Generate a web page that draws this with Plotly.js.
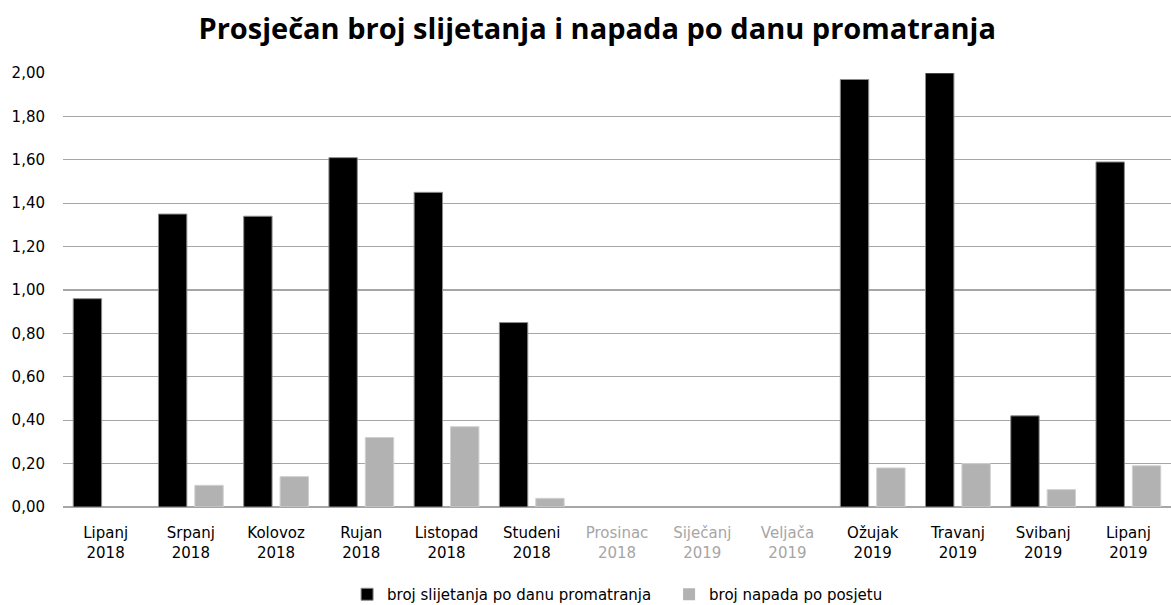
<!DOCTYPE html>
<html>
<head>
<meta charset="utf-8">
<script src="https://cdn.plot.ly/plotly-3.0.1.min.js"></script>
<style>html,body{margin:0;padding:0;background:#fff;}#chart{width:1171px;height:605px;}</style>
</head>
<body>
<div id="chart"></div>
<script>
const categories = ['Lipanj 2018','Srpanj 2018','Kolovoz 2018','Rujan 2018','Listopad 2018','Studeni 2018','Prosinac 2018','Siječanj 2019','Veljača 2019','Ožujak 2019','Travanj 2019','Svibanj 2019','Lipanj 2019'];
const mutedCategories = ['Prosinac 2018','Siječanj 2019','Veljača 2019'];
const landings = [0.96, 1.35, 1.34, 1.61, 1.45, 0.85, 0, 0, 0, 1.97, 2.00, 0.42, 1.59];
const attacks  = [0.00, 0.10, 0.14, 0.32, 0.37, 0.04, 0, 0, 0, 0.18, 0.20, 0.08, 0.19];
const seriesNames = ['broj slijetanja po danu promatranja', 'broj napada po posjetu'];
const yTicks = [0, 0.2, 0.4, 0.6, 0.8, 1.0, 1.2, 1.4, 1.6, 1.8, 2.0];

const tickText = categories.map(c => {
  const parts = c.split(' ');
  if (mutedCategories.includes(c)) {
    return parts.map(p => '<span style="color:#a6a6a6">' + p + '</span>').join('<br>');
  }
  return parts.join('<br>');
});

const FONT = 'DejaVu Sans, Verdana, sans-serif';

const data = [
  {type:'bar', name:seriesNames[0], x:categories, y:landings,
   marker:{color:'#000000', line:{color:'#8c8c8c', width:landings.map(v => v === 0 ? 0 : 1)}}},
  {type:'bar', name:seriesNames[1], x:categories, y:attacks,
   marker:{color:'#b2b2b2', line:{color:'#d0d0d0', width:attacks.map(v => v === 0 ? 0 : 1)}}}
];

const layout = {
  width:1171, height:605,
  paper_bgcolor:'#ffffff', plot_bgcolor:'#ffffff',
  margin:{l:63, r:0, t:73, b:98, autoexpand:false},
  separators:',.',
  title:{text:'<b>Prosječan broj slijetanja i napada po danu promatranja</b>',
    font:{family:'Open Sans, sans-serif', size:29, color:'#000000'},
    x:0.51, xanchor:'center', y:0.953, yanchor:'middle'},
  barmode:'group', bargap:0.146, bargroupgap:0.22,
  showlegend:true,
  legend:{orientation:'h', xref:'container', x:0.2964, xanchor:'left', yref:'paper', y:-0.1636, yanchor:'top',
    font:{family:FONT, size:15, color:'#000000'}, traceorder:'normal', itemwidth:30,
    entrywidth:277, entrywidthmode:'pixels', bgcolor:'rgba(0,0,0,0)'},
  xaxis:{type:'category', tickmode:'array', tickvals:categories, ticktext:tickText,
    tickfont:{family:FONT, size:15, color:'#000000'},
    showgrid:false, showline:false, ticks:'outside', ticklen:12, tickcolor:'rgba(0,0,0,0)', zeroline:false, fixedrange:true},
  yaxis:{range:[0,2.0], tickmode:'array', tickvals:yTicks, tickformat:'.2f',
    tickfont:{family:FONT, size:15, color:'#000000'},
    showgrid:true, gridcolor:'#a6a6a6', gridwidth:1.2, zeroline:true, zerolinecolor:'#a6a6a6', zerolinewidth:1.2,
    showline:false, ticks:'outside', ticklen:14, tickcolor:'rgba(0,0,0,0)', fixedrange:true}
};

Plotly.newPlot('chart', data, layout, {displayModeBar:false, staticPlot:true});
</script>
</body>
</html>
